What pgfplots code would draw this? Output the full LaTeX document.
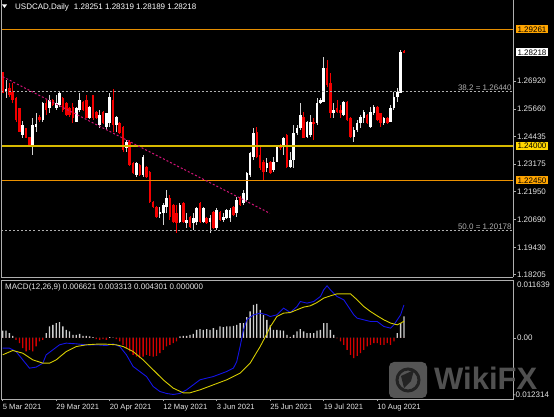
\documentclass[border=0pt]{standalone}
\usepackage{fontspec}
\setmainfont{Liberation Sans}
\usepackage{pgfplots}
\pgfplotsset{compat=1.18}
\usepackage{pgfplotstable}

\definecolor{framegray}{RGB}{175,175,175}
\definecolor{txt}{RGB}{228,228,228}
\definecolor{lvlA}{RGB}{230,142,0}
\definecolor{lvlB}{RGB}{215,185,0}
\definecolor{lvlC}{RGB}{235,145,0}
\definecolor{boxA}{RGB}{255,165,0}
\definecolor{boxB}{RGB}{255,215,0}
\definecolor{fibgray}{RGB}{175,175,175}
\definecolor{trend}{RGB}{210,20,120}
\definecolor{bullwick}{RGB}{210,210,210}
\definecolor{bearred}{RGB}{245,0,0}
\definecolor{macdblue}{RGB}{20,20,230}
\definecolor{macdyellow}{RGB}{215,205,0}
\definecolor{histgray}{RGB}{205,205,205}
\definecolor{histred}{RGB}{210,0,0}
\definecolor{wm}{RGB}{85,85,85}
\definecolor{wmdark}{RGB}{35,35,35}

\newcommand\lbl{\fontsize{8}{9}\selectfont}
\newcommand\xlbl{\fontsize{7.6}{9}\selectfont}

% bullish (white) candles: index open high low close
\pgfplotstableread{
i o h l c
1 1.26433 1.26974 1.26162 1.26568
6 1.24493 1.25125 1.24358 1.24944
9 1.24042 1.25260 1.23591 1.24944
10 1.24854 1.25486 1.24629 1.24990
12 1.25170 1.25982 1.25080 1.25937
14 1.25711 1.26297 1.25486 1.26072
16 1.25711 1.26297 1.25621 1.25937
17 1.25846 1.26433 1.25756 1.26388
22 1.25080 1.25756 1.25080 1.25711
23 1.25621 1.26388 1.25531 1.26072
26 1.25260 1.25801 1.25215 1.25756
29 1.24944 1.25621 1.24809 1.25395
31 1.24854 1.25486 1.24719 1.25486
32 1.25035 1.26388 1.24854 1.26207
34 1.24944 1.25350 1.24629 1.25305
37 1.23907 1.24268 1.23727 1.24178
40 1.22689 1.23276 1.22599 1.23231
42 1.22689 1.23591 1.22599 1.23501
47 1.20930 1.21246 1.20750 1.21021
48 1.20976 1.21427 1.20434 1.21336
49 1.21246 1.22013 1.20976 1.21652
53 1.20570 1.21427 1.20525 1.21336
55 1.20525 1.20976 1.20299 1.20660
57 1.20525 1.20976 1.20209 1.20750
58 1.20570 1.21246 1.20434 1.21201
60 1.20570 1.21246 1.20525 1.21201
62 1.20570 1.20885 1.20074 1.20750
64 1.20299 1.21201 1.20209 1.21111
66 1.20660 1.20976 1.20570 1.20795
67 1.20750 1.21156 1.20705 1.21111
68 1.20750 1.21201 1.20570 1.21111
70 1.20976 1.21697 1.20795 1.21562
72 1.21427 1.22013 1.21336 1.21878
73 1.21562 1.22825 1.21472 1.22780
74 1.22689 1.23727 1.22599 1.23682
75 1.23501 1.24809 1.23366 1.24584
79 1.23005 1.23456 1.22825 1.23231
81 1.22915 1.23501 1.22825 1.23276
82 1.23276 1.24042 1.23276 1.23952
84 1.23952 1.24403 1.23591 1.24358
86 1.23050 1.23727 1.23005 1.23366
87 1.23366 1.24944 1.23005 1.24584
88 1.24584 1.24944 1.24493 1.24809
89 1.24809 1.25937 1.24719 1.25395
91 1.24403 1.25125 1.24358 1.25080
92 1.24493 1.25395 1.24403 1.25080
94 1.25035 1.26162 1.24944 1.25937
95 1.25937 1.26162 1.25892 1.26072
96 1.25982 1.28011 1.25982 1.27515
99 1.25486 1.25937 1.25260 1.25621
102 1.25395 1.26027 1.25350 1.25982
105 1.24403 1.24854 1.24178 1.24719
106 1.24719 1.25170 1.24629 1.25035
107 1.25035 1.25395 1.24809 1.25305
108 1.25260 1.25621 1.25035 1.25531
110 1.24854 1.25756 1.24809 1.25531
111 1.25486 1.25846 1.25395 1.25756
114 1.25035 1.25305 1.24944 1.25260
116 1.25080 1.25846 1.25080 1.25711
117 1.25711 1.26433 1.25621 1.26207
118 1.26207 1.26613 1.25982 1.26433
119 1.26388 1.28327 1.26388 1.28237
}\bull

% bearish (red) candles: index open high low close
\pgfplotstableread{
i o h l c
0 1.27335 1.27335 1.26388 1.26388
2 1.26613 1.26839 1.26207 1.26297
3 1.26433 1.26839 1.25937 1.26072
4 1.26162 1.26207 1.25080 1.25170
5 1.25711 1.25711 1.24629 1.24629
7 1.24809 1.24809 1.24358 1.24358
8 1.24403 1.24403 1.23952 1.24042
11 1.25305 1.25395 1.25080 1.25170
13 1.25937 1.26072 1.25395 1.25621
15 1.26072 1.26117 1.25801 1.25846
18 1.26162 1.26207 1.25531 1.25621
19 1.25937 1.25982 1.25350 1.25395
20 1.25711 1.25756 1.25305 1.25395
21 1.25756 1.25937 1.25035 1.25260
24 1.25982 1.26027 1.25576 1.25621
25 1.26072 1.26297 1.25260 1.25260
27 1.26297 1.26297 1.25170 1.25260
28 1.25531 1.25576 1.25215 1.25260
30 1.25531 1.25576 1.24990 1.25035
33 1.26072 1.26568 1.24629 1.24944
35 1.25035 1.25080 1.24538 1.24584
36 1.24854 1.24899 1.23727 1.23817
38 1.24178 1.24268 1.23095 1.23140
39 1.23231 1.23276 1.22735 1.22780
41 1.23140 1.23185 1.22644 1.22689
43 1.23050 1.23095 1.22554 1.22599
44 1.22825 1.22870 1.21427 1.21472
45 1.21472 1.21517 1.21201 1.21246
46 1.21246 1.21291 1.20750 1.20795
50 1.21652 1.21787 1.20660 1.20795
51 1.21336 1.21381 1.20525 1.20570
52 1.20976 1.21336 1.20074 1.20525
54 1.21427 1.21472 1.20525 1.20570
56 1.20795 1.20840 1.20299 1.20344
59 1.21427 1.21472 1.20525 1.20570
61 1.20750 1.20795 1.20480 1.20525
63 1.21021 1.21066 1.20254 1.20299
65 1.21021 1.21066 1.20615 1.20660
69 1.21246 1.21291 1.20840 1.20885
71 1.21697 1.21742 1.21291 1.21336
76 1.24629 1.24854 1.23456 1.23501
77 1.23591 1.23952 1.22915 1.23005
78 1.23276 1.23366 1.22464 1.22825
80 1.23276 1.23321 1.22735 1.22780
83 1.23997 1.24088 1.23817 1.23907
85 1.24493 1.24538 1.23005 1.23050
90 1.25305 1.25531 1.24358 1.24358
93 1.25080 1.25260 1.24268 1.24990
97 1.27515 1.27876 1.26658 1.26748
98 1.26839 1.27290 1.25260 1.25486
100 1.25711 1.26072 1.25486 1.25531
101 1.25621 1.25846 1.25260 1.25486
103 1.25982 1.26027 1.25125 1.25170
104 1.25260 1.25305 1.24358 1.24403
109 1.25395 1.25441 1.24990 1.25035
112 1.25756 1.25801 1.25125 1.25170
113 1.25486 1.25486 1.24854 1.25035
115 1.25260 1.25305 1.24990 1.25035
120 1.28251 1.28319 1.28189 1.28218
}\bear

% MACD histogram
\pgfplotstableread{
i v
0 0.00147
1 0.00147
2 0.00094
3 0.0004
4 -0.0004
5 -0.00107
6 -0.00208
7 -0.00275
8 -0.00242
9 -0.00275
10 -0.00174
11 -0.00074
12 -0.0004
13 0.00094
14 0.00228
15 0.00262
16 0.00295
17 0.00315
18 0.00228
19 0.00161
20 0.00128
21 0.0006
22 0.0006
23 0.0008
24 0.0004
25 0.0004
26 0.00027
27 0.00013
28 -0.00027
29 -0.0004
30 -0.00027
31 -0.0004
32 0.00013
33 0.00005
34 -0.00027
35 -0.00074
36 -0.00141
37 -0.00208
38 -0.00275
39 -0.00342
40 -0.00376
41 -0.00409
42 -0.00376
43 -0.00342
44 -0.00362
45 -0.00376
46 -0.00362
47 -0.00309
48 -0.00242
49 -0.00174
50 -0.00141
51 -0.00107
52 -0.00074
53 0.00027
54 0.0004
55 0.0004
56 0.0006
57 0.0008
58 0.00161
59 0.00174
60 0.00161
61 0.00174
62 0.00161
63 0.00195
64 0.00161
65 0.00228
66 0.00215
67 0.00228
68 0.00228
69 0.00242
70 0.00262
71 0.00295
72 0.00295
73 0.00416
74 0.0053
75 0.00664
76 0.00684
77 0.00564
78 0.00463
79 0.00362
80 0.0025
81 0.00161
82 0.00161
83 0.0015
84 0.00147
85 0.0006
86 0.0002
87 0.0006
88 0.00128
89 0.00174
90 0.00128
91 0.00094
92 0.00094
93 0.00094
94 0.00147
95 0.00161
96 0.00295
97 0.00295
98 0.00161
99 0.0006
100 -0.0001
101 -0.00074
102 -0.00141
103 -0.00242
104 -0.00342
105 -0.00409
106 -0.00362
107 -0.00309
108 -0.00242
109 -0.00174
110 -0.00141
111 -0.00107
112 -0.00107
113 -0.00141
114 -0.00141
115 -0.00107
116 -0.00141
117 -0.00074
118 0.00094
119 0.00295
120 0.004301
}\hist

\begin{document}
\begin{tikzpicture}
\fill[black] (0pt,0pt) rectangle (554pt,417pt);
\useasboundingbox (0pt,0pt) rectangle (554pt,417pt);

% ---------------- price panel ----------------
\begin{axis}[
  at={(1.5pt,139.5pt)}, anchor=south west,
  width=511.8pt, height=277.5pt, scale only axis,
  xmin=-0.36, xmax=152.7, ymin=1.18067, ymax=1.30582,
  axis x line*=bottom, axis y line*=right,
  axis line style={draw=framegray, line width=0.8pt},
  xtick=\empty,
  ytick={1.18205,1.19430,1.20690,1.21950,1.23175,1.24435,1.25660,1.26920},
  yticklabels={1.18205,1.19430,1.20690,1.21950,1.23175,1.24435,1.25660,1.26920},
  scaled y ticks=false,
  tick align=outside, major tick length=2.5pt,
  major tick style={draw=framegray, line width=0.6pt},
  yticklabel style={font=\lbl, text=txt, anchor=west, inner sep=1pt},
  /pgf/number format/assume math mode=true,
  clip=false,
]
% candle wicks
\addplot[draw=none, mark=none, error bars/.cd, y dir=both, y explicit, error mark=none,
  error bar style={draw=bullwick, line width=0.9pt}]
  table[x=i, y expr={(\thisrow{h}+\thisrow{l})/2}, y error expr={(\thisrow{h}-\thisrow{l})/2}] {\bull};
\addplot[draw=none, mark=none, error bars/.cd, y dir=both, y explicit, error mark=none,
  error bar style={draw=bearred, line width=0.9pt}]
  table[x=i, y expr={(\thisrow{h}+\thisrow{l})/2}, y error expr={(\thisrow{h}-\thisrow{l})/2}] {\bear};
% candle bodies
\addplot[draw=none, mark=none, error bars/.cd, y dir=both, y explicit, error mark=none,
  error bar style={draw=white, line width=2.6pt}]
  table[x=i, y expr={(\thisrow{o}+\thisrow{c})/2}, y error expr={abs(\thisrow{c}-\thisrow{o})/2+0.00012}] {\bull};
\addplot[draw=none, mark=none, error bars/.cd, y dir=both, y explicit, error mark=none,
  error bar style={draw=bearred, line width=2.6pt}]
  table[x=i, y expr={(\thisrow{o}+\thisrow{c})/2}, y error expr={abs(\thisrow{o}-\thisrow{c})/2+0.00012}] {\bear};

% Fibonacci levels
\addplot[draw=fibgray, line width=0.7pt, dash pattern=on 2pt off 2pt] coordinates {(-0.36,1.26440) (152.7,1.26440)};
\addplot[draw=fibgray, line width=0.7pt, dash pattern=on 2pt off 2pt] coordinates {(-0.36,1.20178) (152.7,1.20178)};
% horizontal levels
\addplot[draw=lvlA, line width=1.3pt] coordinates {(-0.36,1.29261) (152.7,1.29261)};
\addplot[draw=lvlB, line width=1.2pt] coordinates {(-0.36,1.24000) (152.7,1.24000)};
\addplot[draw=lvlC, line width=1.1pt] coordinates {(-0.36,1.22450) (152.7,1.22450)};
% trend line
\addplot[draw=trend, line width=1pt, dash pattern=on 2pt off 2pt] coordinates {(0,1.27123) (79.9,1.20962)};

\draw[framegray, line width=0.8pt] (rel axis cs:0,0) -- (rel axis cs:0,1);

\node[font=\lbl, text=fibgray, anchor=south east, inner sep=0.8pt] at (axis cs:152.5,1.26440) {38.2 = 1.26440};
\node[font=\lbl, text=fibgray, anchor=south east, inner sep=0.8pt] at (axis cs:152.5,1.20178) {50.0 = 1.20178};

\node[font=\lbl, fill=boxA, text=black, anchor=west, inner xsep=1.8pt, inner ysep=1.2pt, xshift=2.2pt] at (axis cs:152.7,1.29261) {1.29261};
\node[font=\lbl, fill=white, text=black, anchor=west, inner xsep=1.8pt, inner ysep=1.2pt, xshift=2.2pt] at (axis cs:152.7,1.28218) {1.28218};
\node[font=\lbl, fill=boxB, text=black, anchor=west, inner xsep=1.8pt, inner ysep=1.2pt, xshift=2.2pt] at (axis cs:152.7,1.24000) {1.24000};
\node[font=\lbl, fill=boxA, text=black, anchor=west, inner xsep=1.8pt, inner ysep=1.2pt, xshift=2.2pt] at (axis cs:152.7,1.22450) {1.22450};
\end{axis}

% ---------------- MACD panel ----------------
\begin{axis}[
  at={(1.5pt,18pt)}, anchor=south west,
  width=511.8pt, height=119pt, scale only axis,
  xmin=-0.36, xmax=152.7, ymin=-0.012314, ymax=0.011639,
  axis line style={draw=framegray, line width=0.8pt},
  xtick={0,16,32,48,64,80,96,112},
  xticklabels={5 Mar 2021,29 Mar 2021,20 Apr 2021,12 May 2021,3 Jun 2021,25 Jun 2021,19 Jul 2021,10 Aug 2021},
  xtick pos=left, ytick pos=right,
  ytick={0}, yticklabels={0.00},
  scaled y ticks=false,
  tick align=outside, major tick length=2.5pt,
  major tick style={draw=framegray, line width=0.6pt},
  xticklabel style={font=\xlbl, text=txt, anchor=north west, inner sep=0pt, yshift=-2pt},
  yticklabel style={font=\lbl, text=txt, anchor=west, inner sep=1pt},
  /pgf/number format/assume math mode=true,
  clip=false,
]
\addplot[ybar, bar width=1.3pt, bar shift=0pt, fill=histgray, draw=none] table[x=i, y expr={max(\thisrow{v},0)}] {\hist};
\addplot[ybar, bar width=1.3pt, bar shift=0pt, fill=histred, draw=none] table[x=i, y expr={min(\thisrow{v},0)}] {\hist};

\addplot[draw=macdblue, line width=0.9pt] coordinates {
(0,-0.00207) (2,-0.00207) (4,-0.00276) (6,-0.00443) (8,-0.0061) (10,-0.0059) (12,-0.0051) (13,-0.00342) (15,-0.00242) (17,-0.00141) (19,-0.00107) (22,-0.00121) (25,-0.00141) (28,-0.00141) (31,-0.00155) (33,-0.00121) (35,-0.00175) (37,-0.00342) (39,-0.00577) (41,-0.00678) (43,-0.00779) (45,-0.0098) (47,-0.0108) (49,-0.0112) (51,-0.0114) (53,-0.0112) (55,-0.01047) (57,-0.00946) (59,-0.00845) (63,-0.00779) (67,-0.00678) (69,-0.0061) (70,-0.00477) (71,-0.00175) (72,0.00161) (73,0.00362) (75,0.00463) (77,0.00497) (79,0.00463) (80,0.00429) (82,0.00463) (84,0.00598) (86,0.00509) (88,0.0063) (89,0.00731) (91,0.00698) (93,0.00731) (95,0.00831) (96,0.00966) (97,0.01047) (98,0.00966) (100,0.00831) (102,0.00765) (103,0.00664) (105,0.00463) (106,0.00396) (108,0.00362) (110,0.00329) (112,0.00329) (114,0.00228) (116,0.00195) (117,0.00262) (119,0.00463) (120,0.006621)};
\addplot[draw=macdyellow, line width=0.9pt] coordinates {
(0,-0.00342) (3,-0.00255) (6,-0.00309) (9,-0.00443) (12,-0.0051) (14,-0.0051) (16,-0.00443) (19,-0.00276) (22,-0.00175) (25,-0.00141) (28,-0.00128) (31,-0.00128) (34,-0.00141) (36,-0.00175) (39,-0.00276) (42,-0.00443) (45,-0.00644) (48,-0.00845) (51,-0.01013) (54,-0.01107) (56,-0.01107) (59,-0.01047) (63,-0.00946) (67,-0.00845) (71,-0.00711) (74,-0.0051) (77,-0.00175) (79,0.0008) (80,0.0022) (82,0.00429) (84,0.00497) (86,0.00509) (88,0.00564) (90,0.00618) (92,0.00644) (94,0.00711) (96,0.00799) (98,0.00845) (100,0.00886) (104,0.00886) (106,0.00765) (108,0.0063) (110,0.00529) (112,0.00443) (114,0.00362) (116,0.00296) (118,0.00262) (120,0.003313)};

\node[font=\lbl, text=txt, anchor=north west, inner sep=0pt, xshift=3.5pt, yshift=-1.5pt] at (rel axis cs:1,1) {0.011639};
\node[font=\lbl, text=txt, anchor=south west, inner sep=0pt, xshift=-0.5pt, yshift=1.5pt] at (rel axis cs:1,0) {-0.012314};
\node[font=\lbl, text=txt, anchor=north west, inner sep=0pt, xshift=3.5pt, yshift=-3.5pt] at (rel axis cs:0,1) {MACD(12,26,9) 0.006621 0.003313 0.004301 0.000000};
\end{axis}

% ---------------- title ----------------
\fill[white] (2pt,412.5pt) -- (7pt,412.5pt) -- (4.5pt,409pt) -- cycle;
\node[font=\lbl, text=white, anchor=base west, inner sep=0pt] at (15pt,407pt) {USDCAD,Daily\hspace{5pt}1.28251 1.28319 1.28189 1.28218};

% ---------------- watermark ----------------
\fill[wm, rounded corners=5pt] (389pt,19pt) rectangle (427pt,55pt);
\draw[wmdark, line width=3pt] (408pt,37pt) circle (11pt);
\fill[wmdark] (401pt,41pt) -- (414pt,47pt) -- (411pt,36pt) -- (404pt,29pt) -- cycle;
\node[font=\fontsize{31}{33}\selectfont\bfseries, text=wm, anchor=base west, inner sep=0pt, opacity=0.95] at (434pt,27pt) {WikiFX};
\end{tikzpicture}
\end{document}
